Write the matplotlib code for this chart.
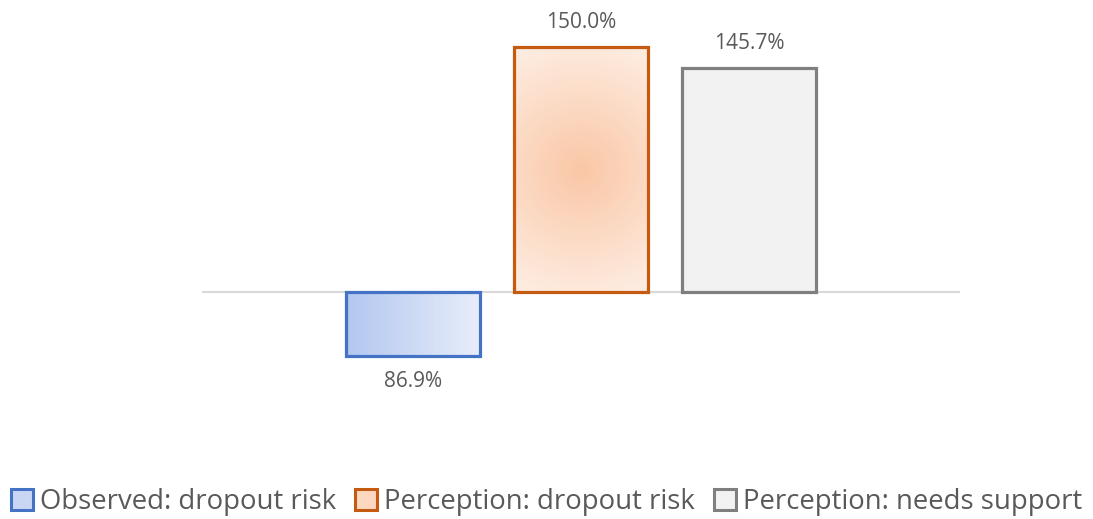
import numpy as np
import matplotlib
matplotlib.use("Agg")
import matplotlib.pyplot as plt
from matplotlib.patches import Patch

plt.rcParams['font.family'] = ['Open Sans', 'DejaVu Sans']

# data (percent, relative to 100% baseline)
series = ['Observed: dropout risk', 'Perception: dropout risk', 'Perception: needs support']
values = [86.9, 150.0, 145.7]
baseline = 100.0

edge_colors = ['#4472C4', '#C55A11', '#7F7F7F']
legend_fill = ['#C9D6F3', '#FCD8C0', '#F2F2F2']
text_color = '#595959'

fig = plt.figure(figsize=(10.93, 5.19), dpi=100)
ax = fig.add_axes([0.1848, 0.1908, 0.6935, 0.7514])

x = np.arange(len(values))
deltas = [v - baseline for v in values]
bars = ax.bar(x, deltas, width=0.8, facecolor='none', edgecolor=edge_colors,
              linewidth=2.3, zorder=3)

# gradient fills clipped to each bar
def fill_gradient(rect, img):
    x0, y0 = rect.get_x(), rect.get_y()
    w, h = rect.get_width(), rect.get_height()
    y1 = y0 + h
    im = ax.imshow(img, extent=[x0, x0 + w, min(y0, y1), max(y0, y1)],
                   origin='lower', aspect='auto', zorder=2, interpolation='bilinear')
    im.set_clip_path(rect)

# observed: linear horizontal blue gradient
c_left = np.array([0.70, 0.78, 0.94])
c_right = np.array([0.91, 0.93, 0.98])
t = np.linspace(0, 1, 200)
grad = c_left[None, :] * (1 - t[:, None]) + c_right[None, :] * t[:, None]
fill_gradient(bars[0], np.tile(grad[None, :, :], (20, 1, 1)))

# perception dropout: radial orange gradient (circular in pixel space)
c_center = np.array([0.98, 0.78, 0.65])
c_edge = np.array([0.995, 0.925, 0.88])
gx, gy = np.meshgrid(np.linspace(-67, 67, 134), np.linspace(-122, 122, 245))
r = np.clip(np.sqrt(gx ** 2 + gy ** 2) / 130.0, 0, 1)
radial = c_center[None, None, :] * (1 - r[..., None]) + c_edge[None, None, :] * r[..., None]
fill_gradient(bars[1], radial)

# perception needs support: flat light gray
bars[2].set_facecolor('#F2F2F2')

ax.axhline(0, color='#D9D9D9', linewidth=1.5, zorder=1)

for xi, v, d in zip(x, values, deltas):
    off = 2.9 if d >= 0 else -3.0
    ax.text(xi, d + off, f'{v:.1f}%', ha='center', va='bottom' if d >= 0 else 'top',
            fontsize=15, color=text_color)

ax.set_xlim(-1.256, 3.256)
ax.set_ylim(-26.1, 53.5)
ax.axis('off')

handles = [Patch(facecolor=f, edgecolor=e, linewidth=2.2) for f, e in zip(legend_fill, edge_colors)]
fig.legend(handles, series, loc='center', bbox_to_anchor=(0.5, 1 - 502 / 519), ncol=3,
           frameon=False, fontsize=19.8, labelcolor=text_color, handlelength=0.8,
           handleheight=0.8, handletextpad=0.25, columnspacing=0.7, borderpad=0)

fig.savefig('out.png', dpi=100, facecolor='white')
